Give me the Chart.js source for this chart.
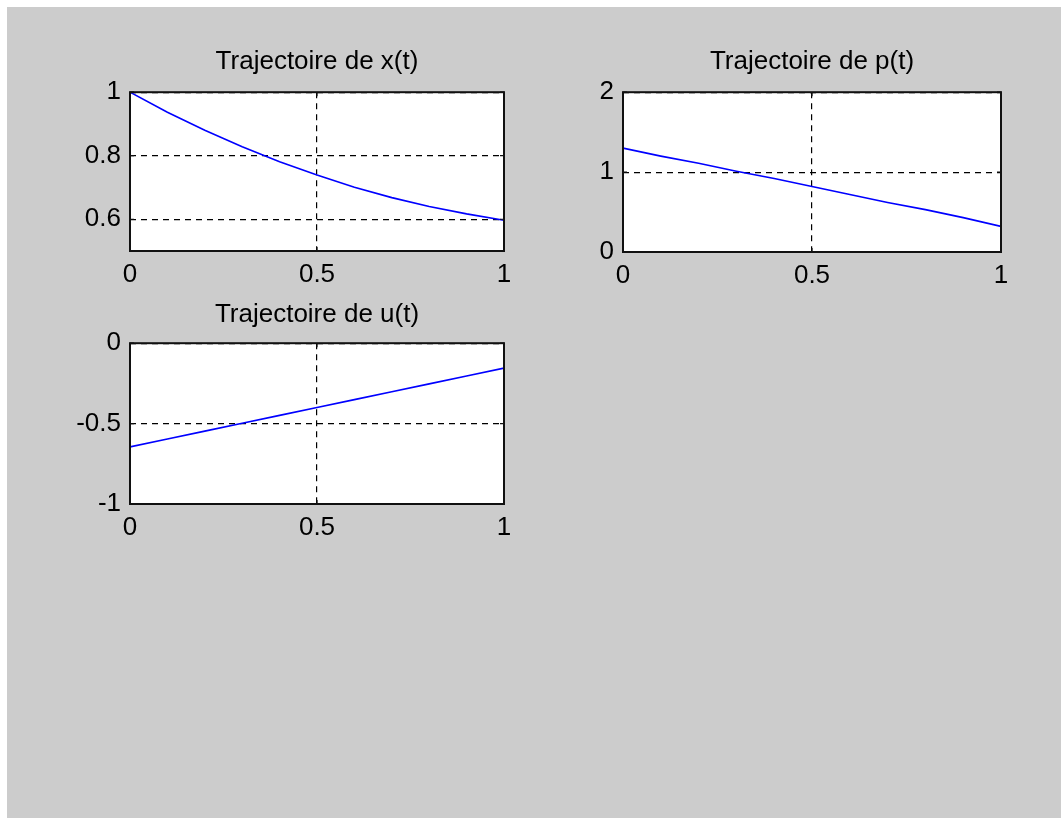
<!DOCTYPE html>
<html>
<head>
<meta charset="utf-8">
<script src="https://cdn.jsdelivr.net/npm/chart.js@4/dist/chart.umd.min.js"></script>
<style>
  html, body { margin: 0; padding: 0; background: #ffffff; }
  #fig { position: absolute; left: 7px; top: 7px; width: 1054px; height: 811px; background: #cccccc; }
  .sub { position: absolute; }
</style>
</head>
<body>
<div id="fig"></div>
<canvas id="cx" class="sub" width="464" height="251" style="left:60px;top:40px"></canvas>
<canvas id="cp" class="sub" width="468" height="252" style="left:553px;top:40px"></canvas>
<canvas id="cu" class="sub" width="464" height="251" style="left:60px;top:293px"></canvas>
<script>
// temps
const tVals = [0, 0.1, 0.2, 0.3, 0.4, 0.5, 0.6, 0.7, 0.8, 0.9, 1];
// trajectoires
const xVals = [1.000, 0.937, 0.880, 0.828, 0.781, 0.739, 0.701, 0.668, 0.640, 0.617, 0.597];
const pVals = [1.30, 1.20, 1.11, 1.01, 0.92, 0.82, 0.72, 0.62, 0.53, 0.43, 0.32];
const uVals = [-0.645, -0.596, -0.547, -0.498, -0.449, -0.400, -0.351, -0.302, -0.253, -0.204, -0.155];

const xTicks = [0, 0.5, 1];
const xTrajTicks = [0.6, 0.8, 1];
const pTrajTicks = [0, 1, 2];
const uTrajTicks = [-1, -0.5, 0];

const FONT = "'Liberation Sans', Arial, sans-serif";

// fond blanc, cadre noir et petites graduations vers l'intérieur
const boxPlugin = {
    id: 'box',
    beforeDraw(chart) {
        const a = chart.chartArea, c = chart.ctx;
        c.save();
        c.fillStyle = '#ffffff';
        c.fillRect(a.left, a.top, a.right - a.left, a.bottom - a.top);
        c.restore();
    },
    afterDraw(chart) {
        const a = chart.chartArea, c = chart.ctx;
        const sx = chart.scales.x, sy = chart.scales.y;
        const tl = 4;
        c.save();
        c.strokeStyle = '#111';
        c.lineWidth = 1.2;
        c.beginPath();
        sx.ticks.forEach(t => {
            const px = sx.getPixelForValue(t.value);
            c.moveTo(px, a.bottom); c.lineTo(px, a.bottom - tl);
            c.moveTo(px, a.top); c.lineTo(px, a.top + tl);
        });
        sy.ticks.forEach(t => {
            const py = sy.getPixelForValue(t.value);
            c.moveTo(a.left, py); c.lineTo(a.left + tl, py);
            c.moveTo(a.right, py); c.lineTo(a.right - tl, py);
        });
        c.stroke();
        c.lineWidth = 2;
        c.strokeRect(a.left, a.top, a.right - a.left, a.bottom - a.top);
        c.restore();
    }
};

function fixTicks(list) {
    return function (scale) {
        scale.ticks = list.map(v => ({ value: v }));
    };
}

function makeChart(id, title, values, yMin, yMax, yTicks, padBottom) {
    const ctx = document.getElementById(id).getContext('2d');
    return new Chart(ctx, {
        type: 'line',
        data: {
            datasets: [{
                data: tVals.map((t, i) => ({ x: t, y: values[i] })),
                borderColor: '#0000ff',
                borderWidth: 1.6,
                pointRadius: 0,
                tension: 0,
                fill: false
            }]
        },
        options: {
            responsive: false,
            animation: false,
            layout: { padding: { left: 0, right: 20, top: 0, bottom: 0 } },
            plugins: {
                legend: { display: false },
                tooltip: { enabled: false },
                title: {
                    display: true,
                    fullSize: false,
                    text: title,
                    color: '#000',
                    font: { family: FONT, size: 26, weight: 'normal' },
                    padding: { top: 6, bottom: padBottom }
                }
            },
            scales: {
                x: {
                    type: 'linear',
                    min: 0,
                    max: 1,
                    afterBuildTicks: fixTicks(xTicks),
                    afterFit(scale) { scale.height = 40; },
                    border: { display: false, dash: [6, 5] },
                    grid: { color: '#000', lineWidth: 1.2, drawTicks: false },
                    ticks: {
                        color: '#000',
                        padding: 8,
                        maxRotation: 0,
                        font: { family: FONT, size: 26 },
                        callback: v => String(v)
                    }
                },
                y: {
                    type: 'linear',
                    min: yMin,
                    max: yMax,
                    afterBuildTicks: fixTicks(yTicks),
                    afterFit(scale) { scale.width = 70; },
                    border: { display: false, dash: [6, 5] },
                    grid: { color: '#000', lineWidth: 1.2, drawTicks: false },
                    ticks: {
                        color: '#000',
                        padding: 9,
                        font: { family: FONT, size: 26 },
                        callback: v => String(v)
                    }
                }
            }
        },
        plugins: [boxPlugin]
    });
}

makeChart('cx', 'Trajectoire de x(t)', xVals, 0.5, 1, xTrajTicks, 15);
makeChart('cp', 'Trajectoire de p(t)', pVals, 0, 2, pTrajTicks, 15);
makeChart('cu', 'Trajectoire de u(t)', uVals, -1, 0, uTrajTicks, 13);
</script>
</body>
</html>
